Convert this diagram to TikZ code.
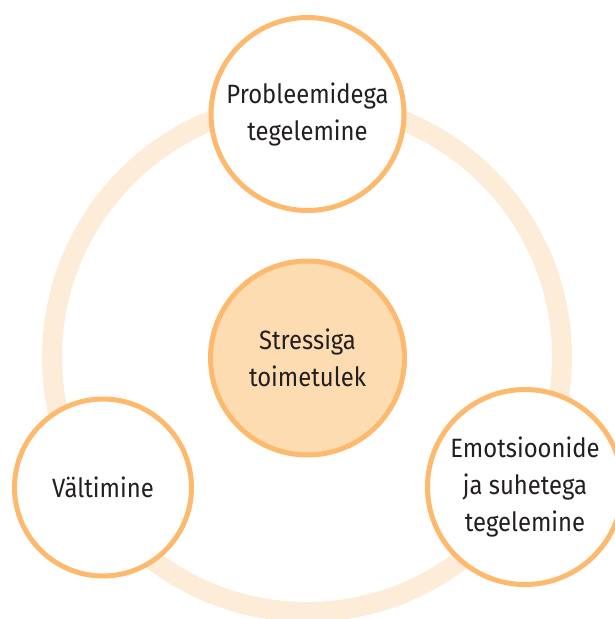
\documentclass[tikz,border=0pt]{standalone}
\usepackage{fontspec}
\setmainfont{Fira Sans}[FakeStretch=0.9]
\definecolor{ringcol}{RGB}{253,236,215}
\definecolor{strokecol}{RGB}{253,186,110}
\definecolor{centerfill}{RGB}{253,220,178}
\definecolor{txt}{RGB}{35,31,32}
\tikzset{
  bubble/.style={circle, draw=strokecol, line width=5pt, fill=white, inner sep=0pt,
    align=center, text=txt, font=\fontsize{26.5}{37}\selectfont},
  hub/.style={bubble, fill=centerfill}
}
\begin{document}
\begin{tikzpicture}[x=1pt,y=-1pt]
\useasboundingbox (0,0) rectangle (615,619);
\coordinate (c) at (307,357);
\draw[ringcol, line width=20pt] (c) circle[radius=255];
\node[hub, minimum size=194pt] (hubnode) at (307.5,358) {Stressiga\\toimetulek};
\node[bubble, minimum size=193pt] (top) at (307.5,114) {Probleemidega\\tegelemine};
\node[bubble, minimum size=177pt] (left) at (103,487.5) {Vältimine};
\node[bubble, minimum size=195pt] (right) at (525,487) {Emotsioonide\\ja suhetega\\tegelemine};
\end{tikzpicture}
\end{document}
